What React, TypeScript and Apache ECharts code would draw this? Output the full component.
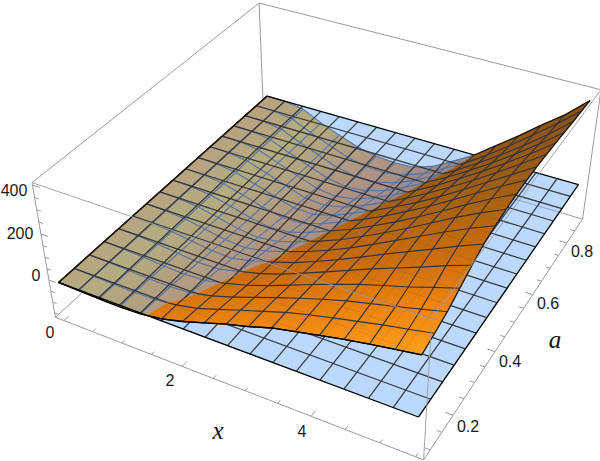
import React, { useEffect, useRef } from "react";
import * as echarts from "echarts";

// rows run along a (low to high), columns along x (0 to 5.5)
const surfaceZ: number[][] = [
  [0,-3,-6,-7,-4,9,33,62,92,117,147,168,188,208,225,241,256],
  [0,-3,-6,-8,-7,5,24,54,85,115,145,170,192,213,234,252,272],
  [0,-3,-7,-11,-13,-6,14,42,75,108,139,169,196,219,242,266,290],
  [0,-3,-8,-15,-20,-15,5,30,62,97,133,167,200,229,256,288,318],
  [0,-3,-9,-19,-28,-27,-4,19,49,86,124,163,202,238,274,312,346],
  [0,-3,-10,-23,-36,-39,-18,8,38,75,115,158,202,244,286,329,369],
  [0,-3,-11,-27,-44,-50,-34,-5,27,64,106,152,200,248,296,341,382],
  [0,-3,-12,-31,-52,-62,-50,-20,14,51,96,143,193,245,298,346,390],
  [0,-3,-13,-35,-59,-74,-66,-36,2,39,85,132,184,238,294,347,395],
  [0,-3,-14,-38,-65,-85,-82,-54,-14,26,71,121,173,229,287,343,397],
  [0,-3,-14,-41,-70,-95,-97,-72,-32,10,56,105,159,217,277,337,397],
  [0,-3,-14,-44,-75,-104,-110,-90,-52,-8,38,90,145,203,265,329,394],
  [0,-2,-14,-47,-79,-111,-122,-107,-72,-28,20,72,130,189,253,319,389],
  [0,-2,-14,-50,-83,-116,-131,-122,-92,-48,2,54,112,173,239,309,384],
  [0,-2,-14,-52,-86,-119,-137,-134,-110,-70,-20,34,94,157,225,299,379],
  [0,-2,-14,-54,-88,-121,-139,-142,-126,-90,-38,15,78,147,221,294,375],
  [0,-2,-14,-56,-90,-122,-140,-146,-140,-108,-56,0,70,140,215,285,371],
];
const xRange = [0, 5.5];
const aRange = [0.075, 0.885];
const box = { x: [-0.15, 5.61], a: [0.072, 0.9], z: [-170, 410] };

const xTicks = [0,0.5,1,1.5,2,2.5,3,3.5,4,4.5,5,5.5];
const aTicks = [0.1,0.15,0.2,0.25,0.3,0.35,0.4,0.45,0.5,0.55,0.6,0.65,0.7,0.75,0.8,0.85];
const zTicks = [-150,-100,-50,0,50,100,150,200,250,300,350,400];
const xMajor = [0,2,4];
const aMajor = [0.2,0.4,0.6,0.8];
const zMajor = [0,200,400];

const tickLabels = [
  { text: "400", x: 14, y: 190 }, { text: "200", x: 20, y: 233 }, { text: "0", x: 36, y: 275 },
  { text: "0", x: 50, y: 332 }, { text: "2", x: 170, y: 380 }, { text: "4", x: 302, y: 431 },
  { text: "0.2", x: 468, y: 426 }, { text: "0.4", x: 510, y: 361 }, { text: "0.6", x: 548, y: 303 }, { text: "0.8", x: 582, y: 251 },
];

// box corners in the picture: [u, v, w] in box fractions -> pixel
const corners: number[][] = [
  [0,0,0,54,315],[1,0,0,424,460],[0,1,0,264.5,128],[1,1,0,583,218],
  [0,0,1,33,184],[1,0,1,432,320],[0,1,1,259,1],[1,1,1,600,90],
];

function solveCamera(): number[] {
  const A: number[][] = Array.from({ length: 11 }, () => new Array(12).fill(0));
  const add = (r: number[], b: number) => {
    for (let i = 0; i < 11; i++) {
      for (let k = 0; k < 11; k++) A[i][k] += r[i] * r[k];
      A[i][11] += r[i] * b;
    }
  };
  corners.forEach(([u, v, w, x, y]) => {
    add([u, v, w, 1, 0, 0, 0, 0, -x * u, -x * v, -x * w], x);
    add([0, 0, 0, 0, u, v, w, 1, -y * u, -y * v, -y * w], y);
  });
  for (let c = 0; c < 11; c++) {
    let p = c;
    for (let r = c + 1; r < 11; r++) if (Math.abs(A[r][c]) > Math.abs(A[p][c])) p = r;
    [A[c], A[p]] = [A[p], A[c]];
    for (let r = 0; r < 11; r++) {
      if (r === c) continue;
      const f = A[r][c] / A[c][c];
      for (let k = c; k < 12; k++) A[r][k] -= f * A[c][k];
    }
  }
  return A.map((row, i) => row[11] / row[i]);
}
const cam = solveCamera();

type P3 = [number, number, number];
function project(p: P3): number[] {
  const u = (p[0] - box.x[0]) / (box.x[1] - box.x[0]);
  const v = (p[1] - box.a[0]) / (box.a[1] - box.a[0]);
  const w = (p[2] - box.z[0]) / (box.z[1] - box.z[0]);
  const d = cam[8] * u + cam[9] * v + cam[10] * w + 1;
  return [
    (cam[0] * u + cam[1] * v + cam[2] * w + cam[3]) / d,
    (cam[4] * u + cam[5] * v + cam[6] * w + cam[7]) / d,
  ];
}

const N = 16;
const xAt = (i: number) => xRange[0] + ((xRange[1] - xRange[0]) * i) / N;
const aAt = (j: number) => aRange[0] + ((aRange[1] - aRange[0]) * j) / N;
const vert = (i: number, j: number): P3 => [xAt(i), aAt(j), surfaceZ[j][i]];

function clipZ(poly: P3[], sign: number): P3[] {
  const out: P3[] = [];
  poly.forEach((p, k) => {
    const q = poly[(k + 1) % poly.length];
    const inP = sign * p[2] >= 0;
    const inQ = sign * q[2] >= 0;
    if (inP) out.push(p);
    if (inP !== inQ) {
      const t = p[2] / (p[2] - q[2]);
      out.push([p[0] + t * (q[0] - p[0]), p[1] + t * (q[1] - p[1]), 0]);
    }
  });
  return out;
}

const grad = (x2: number, y2: number, stops: [number, string][]) => ({
  type: "linear", x: 0, y: 0, x2, y2, global: true,
  colorStops: stops.map(([offset, color]) => ({ offset, color })),
});
// colours of the sheet above the plane, along a nearly vertical direction
const orange = grad(50, 500, [
  [0.32, "#87501a"], [0.48, "#a5600f"], [0.6, "#cd6e0f"], [0.68, "#eb820f"], [0.78, "#ff9e1c"], [1, "#ffa428"],
]);
// colours of the sheet under the translucent plane
const under = grad(300, 400, [
  [0.48, "#fb8d00"], [0.57, "#f1a500"], [0.72, "#e97505"], [0.82, "#b55b19"], [1, "#b55b19"],
]);

type Item = { t: "poly" | "line"; pts: number[][]; fill?: any; stroke?: string; w?: number; op?: number };
const items: Item[] = [];
const line = (a: P3, b: P3, stroke: string, w: number, op = 1) =>
  items.push({ t: "line", pts: [project(a), project(b)], stroke, w, op });

const B = box;
const GREY = "#9a9a9a";
// back box edges
line([B.x[0], B.a[0], B.z[0]], [B.x[1], B.a[0], B.z[0]], GREY, 1);
line([B.x[0], B.a[0], B.z[0]], [B.x[0], B.a[1], B.z[0]], GREY, 1);
line([B.x[1], B.a[0], B.z[0]], [B.x[1], B.a[1], B.z[0]], GREY, 1);
line([B.x[0], B.a[1], B.z[0]], [B.x[1], B.a[1], B.z[0]], GREY, 1);
line([B.x[0], B.a[0], B.z[1]], [B.x[0], B.a[1], B.z[1]], GREY, 1);
line([B.x[0], B.a[1], B.z[1]], [B.x[1], B.a[1], B.z[1]], GREY, 1);
line([B.x[0], B.a[1], B.z[0]], [B.x[0], B.a[1], B.z[1]], GREY, 1);
line([B.x[0], B.a[0], B.z[0]], [B.x[0], B.a[0], B.z[1]], GREY, 1);
line([B.x[1], B.a[1], B.z[0]], [B.x[1], B.a[1], B.z[1]], GREY, 1);

// ticks
const MINOR = 0.012;
const MAJOR = 0.02;
xTicks.forEach((x) => {
  const l = (xMajor.includes(x) ? MAJOR : MINOR) * (B.a[1] - B.a[0]);
  line([x, B.a[0], B.z[0]], [x, B.a[0] + l, B.z[0]], GREY, 1);
});
aTicks.forEach((a) => {
  const l = (aMajor.includes(a) ? MAJOR : MINOR) * (B.x[1] - B.x[0]);
  line([B.x[1], a, B.z[0]], [B.x[1] - l, a, B.z[0]], GREY, 1);
});
zTicks.forEach((z) => {
  const l = (zMajor.includes(z) ? MAJOR : MINOR) * (B.x[1] - B.x[0]);
  line([B.x[0], B.a[0], z], [B.x[0] + l, B.a[0], z], GREY, 1);
});

// cells, back to front
const cells: number[][] = [];
for (let j = 0; j < N; j++) for (let i = 0; i < N; i++) cells.push([i, j]);
cells.sort((p, q) => p[0] - p[1] - (q[0] - q[1]));
const quad = (i: number, j: number): P3[] => [vert(i, j), vert(i + 1, j), vert(i + 1, j + 1), vert(i, j + 1)];
const meshSegs: { a: P3; b: P3; edge: boolean }[] = [];
for (let k = 0; k <= N; k++) {
  for (let m = 0; m < N; m++) {
    meshSegs.push({ a: vert(k, m), b: vert(k, m + 1), edge: k === 0 || k === N });
    meshSegs.push({ a: vert(m, k), b: vert(m + 1, k), edge: k === 0 || k === N });
  }
}
const seg = (s: { a: P3; b: P3 }, sign: number): P3[] | null => {
  const { a, b } = s;
  const inA = sign * a[2] >= 0;
  const inB = sign * b[2] >= 0;
  if (inA && inB) return [a, b];
  if (!inA && !inB) return null;
  const t = a[2] / (a[2] - b[2]);
  const c: P3 = [a[0] + t * (b[0] - a[0]), a[1] + t * (b[1] - a[1]), 0];
  return inA ? [a, c] : [c, b];
};

// 1. the sheet under the plane
cells.forEach(([i, j]) => {
  const c = clipZ(quad(i, j), -1);
  if (c.length > 2) items.push({ t: "poly", pts: c.map(project), fill: under, stroke: under as any, w: 0.5 });
});
meshSegs.forEach((s) => {
  const r = seg(s, -1);
  if (r) line(r[0], r[1], "#28324f", 1.1);
});

// 2. the translucent plane z = 0
const planeCorners: P3[] = [
  [xRange[0], aRange[0], 0], [xRange[1], aRange[0], 0], [xRange[1], aRange[1], 0], [xRange[0], aRange[1], 0],
];
items.push({ t: "poly", pts: planeCorners.map(project), fill: "rgba(119,179,255,0.5)" });
const planeLines = (stroke: string, w: number, op: number) => {
  for (let k = 1; k < N; k++) {
    line([xAt(k), aRange[0], 0], [xAt(k), aRange[1], 0], stroke, w, op);
    line([xRange[0], aAt(k), 0], [xRange[1], aAt(k), 0], stroke, w, op);
  }
};
planeLines("#333335", 1.25, 0.95);
planeCorners.forEach((p, k) => line(p, planeCorners[(k + 1) % 4], "#000", 1.3));

// 3. the sheet above the plane
cells.forEach(([i, j]) => {
  const c = clipZ(quad(i, j), 1);
  if (c.length > 2) items.push({ t: "poly", pts: c.map(project), fill: orange, stroke: orange as any, w: 0.5 });
});
planeLines("#3a3a3c", 1, 0.1);
meshSegs.forEach((s) => {
  const r = seg(s, 1);
  if (r) line(r[0], r[1], s.edge ? "#1a1208" : "#333238", s.edge ? 1.3 : 1.15);
});
for (let m = 0; m < N; m++) line(vert(m, 0), vert(m + 1, 0), "#000", 1.3);

// 4. front box edges
line([B.x[1], B.a[0], B.z[0]], [B.x[1], B.a[0], B.z[1]], GREY, 1, 0.9);
line([B.x[0], B.a[0], B.z[1]], [B.x[1], B.a[0], B.z[1]], GREY, 1, 0.9);
line([B.x[1], B.a[0], B.z[1]], [B.x[1], B.a[1], B.z[1]], GREY, 1, 0.9);

export default function App() {
  const ref = useRef<HTMLDivElement>(null);
  useEffect(() => {
    document.body.style.margin = "0";
    const chart = echarts.init(ref.current!, undefined, { renderer: "svg" });
    const numberStyle = { fontFamily: "Liberation Sans", fontSize: 16, fill: "#1a1a1a", align: "center", verticalAlign: "middle" };
    const titleStyle = { fontFamily: "Liberation Serif", fontStyle: "italic", fontSize: 25, fill: "#111", align: "center", verticalAlign: "middle" };
    chart.setOption({
      animation: false,
      backgroundColor: "#fff",
      grid: { left: 0, right: 0, top: 0, bottom: 0 },
      xAxis: { type: "value", min: 0, max: 600, show: false },
      yAxis: { type: "value", min: 0, max: 461, inverse: true, show: false },
      series: [{
        type: "custom",
        coordinateSystem: "cartesian2d",
        silent: true,
        clip: false,
        progressive: 0,
        data: items.map((_, k) => [k, k]),
        renderItem: (params: any, api: any) => {
          const it = items[params.dataIndex];
          const points = it.pts.map((p) => api.coord(p));
          if (it.t === "poly") {
            return { type: "polygon", shape: { points }, style: { fill: it.fill, stroke: it.stroke ?? "none", lineWidth: it.w ?? 0 } };
          }
          return { type: "polyline", shape: { points }, style: { fill: "none", stroke: it.stroke, lineWidth: it.w, opacity: it.op ?? 1 } };
        },
      }],
      graphic: [
        ...tickLabels.map((l) => ({ type: "text", x: l.x, y: l.y, z: 10, style: { text: l.text, ...numberStyle } })),
        { type: "text", x: 218, y: 430, z: 10, style: { text: "x", ...titleStyle } },
        { type: "text", x: 555, y: 339, z: 10, style: { text: "a", ...titleStyle } },
      ],
    });
    return () => chart.dispose();
  }, []);
  return <div ref={ref} style={{ width: 600, height: 461, overflow: "hidden" }} />;
}
